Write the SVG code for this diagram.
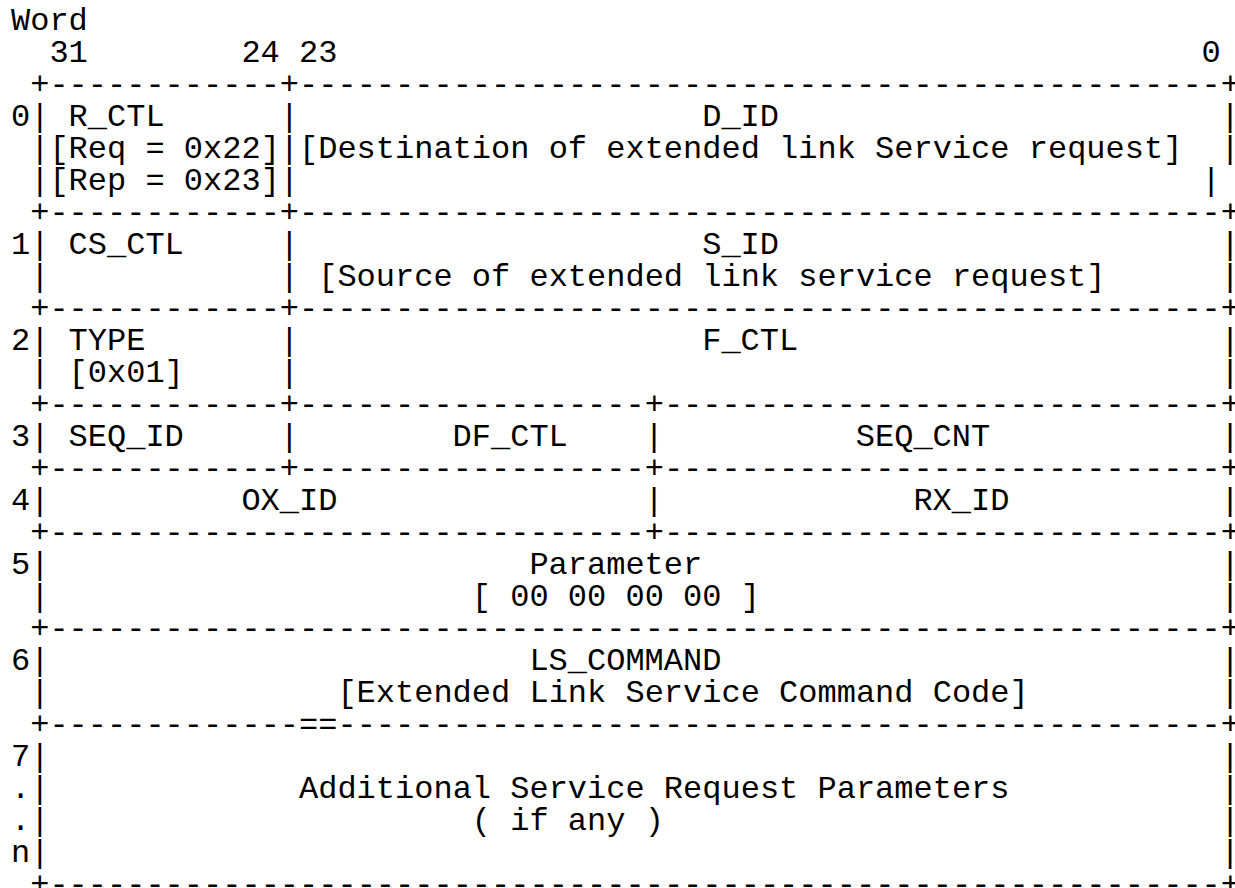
<svg xmlns="http://www.w3.org/2000/svg" width="1235" height="888" viewBox="0 0 1235 888">
<style>
text{font-family:"Liberation Mono","DejaVu Sans Mono",monospace;font-size:32px;fill:#000;white-space:pre}
</style>
<rect width="1235" height="888" fill="#fff"/>
<g id="axis">
<text x="11" y="30">Word</text>
<text x="49.4" y="62">31</text>
<text x="241.4" y="62">24</text>
<text x="299" y="62">23</text>
<text x="1201.4" y="62">0</text>
<text x="11" y="126">0</text>
<text x="11" y="254">1</text>
<text x="11" y="350">2</text>
<text x="11" y="446">3</text>
<text x="11" y="510">4</text>
<text x="11" y="574">5</text>
<text x="11" y="670">6</text>
<text x="11" y="766">7</text>
<text x="11" y="798">.</text>
<text x="11" y="830">.</text>
<text x="11" y="862">n</text>
</g>
<g id="connectors">
<text x="30.2" y="94">+------------+------------------------------------------------+</text>
<text x="30.2" y="222">+------------+------------------------------------------------+</text>
<text x="30.2" y="318">+------------+------------------------------------------------+</text>
<text x="30.2" y="414">+------------+------------------+-----------------------------+</text>
<text x="30.2" y="478">+------------+------------------+-----------------------------+</text>
<text x="30.2" y="542">+-------------------------------+-----------------------------+</text>
<text x="30.2" y="638">+-------------------------------------------------------------+</text>
<text x="30.2" y="734">+-------------==----------------------------------------------+</text>
<text x="30.2" y="894">+-------------------------------------------------------------+</text>
<text y="126"><tspan x="30.2">|</tspan><tspan x="279.8">|</tspan><tspan x="1220.6">|</tspan></text>
<text y="158"><tspan x="30.2">|</tspan><tspan x="279.8">|</tspan><tspan x="1220.6">|</tspan></text>
<text y="190"><tspan x="30.2">|</tspan><tspan x="279.8">|</tspan><tspan x="1201.4">|</tspan></text>
<text y="254"><tspan x="30.2">|</tspan><tspan x="279.8">|</tspan><tspan x="1220.6">|</tspan></text>
<text y="286"><tspan x="30.2">|</tspan><tspan x="279.8">|</tspan><tspan x="1220.6">|</tspan></text>
<text y="350"><tspan x="30.2">|</tspan><tspan x="279.8">|</tspan><tspan x="1220.6">|</tspan></text>
<text y="382"><tspan x="30.2">|</tspan><tspan x="279.8">|</tspan><tspan x="1220.6">|</tspan></text>
<text y="446"><tspan x="30.2">|</tspan><tspan x="279.8">|</tspan><tspan x="644.6">|</tspan><tspan x="1220.6">|</tspan></text>
<text y="510"><tspan x="30.2">|</tspan><tspan x="644.6">|</tspan><tspan x="1220.6">|</tspan></text>
<text y="574"><tspan x="30.2">|</tspan><tspan x="1220.6">|</tspan></text>
<text y="606"><tspan x="30.2">|</tspan><tspan x="1220.6">|</tspan></text>
<text y="670"><tspan x="30.2">|</tspan><tspan x="1220.6">|</tspan></text>
<text y="702"><tspan x="30.2">|</tspan><tspan x="1220.6">|</tspan></text>
<text y="766"><tspan x="30.2">|</tspan><tspan x="1220.6">|</tspan></text>
<text y="798"><tspan x="30.2">|</tspan><tspan x="1220.6">|</tspan></text>
<text y="830"><tspan x="30.2">|</tspan><tspan x="1220.6">|</tspan></text>
<text y="862"><tspan x="30.2">|</tspan><tspan x="1220.6">|</tspan></text>
</g>
<g id="r_ctl">
<text x="68.6" y="126">R_CTL</text>
<text x="49.4" y="158">[Req = 0x22]</text>
<text x="49.4" y="190">[Rep = 0x23]</text>
</g>
<g id="d_id">
<text x="702.2" y="126">D_ID</text>
<text x="299" y="158">[Destination of extended link Service request]</text>
</g>
<g id="cs_ctl"><text x="68.6" y="254">CS_CTL</text></g>
<g id="s_id">
<text x="702.2" y="254">S_ID</text>
<text x="318.2" y="286">[Source of extended link service request]</text>
</g>
<g id="type">
<text x="68.6" y="350">TYPE</text>
<text x="68.6" y="382">[0x01]</text>
</g>
<g id="f_ctl"><text x="702.2" y="350">F_CTL</text></g>
<g id="seq_id"><text x="68.6" y="446">SEQ_ID</text></g>
<g id="df_ctl"><text x="452.6" y="446">DF_CTL</text></g>
<g id="seq_cnt"><text x="855.8" y="446">SEQ_CNT</text></g>
<g id="ox_id"><text x="241.4" y="510">OX_ID</text></g>
<g id="rx_id"><text x="913.4" y="510">RX_ID</text></g>
<g id="parameter">
<text x="529.4" y="574">Parameter</text>
<text x="471.8" y="606">[ 00 00 00 00 ]</text>
</g>
<g id="ls_command">
<text x="529.4" y="670">LS_COMMAND</text>
<text x="337.4" y="702">[Extended Link Service Command Code]</text>
</g>
<g id="additional">
<text x="299" y="798">Additional Service Request Parameters</text>
<text x="471.8" y="830">( if any )</text>
</g>
</svg>
